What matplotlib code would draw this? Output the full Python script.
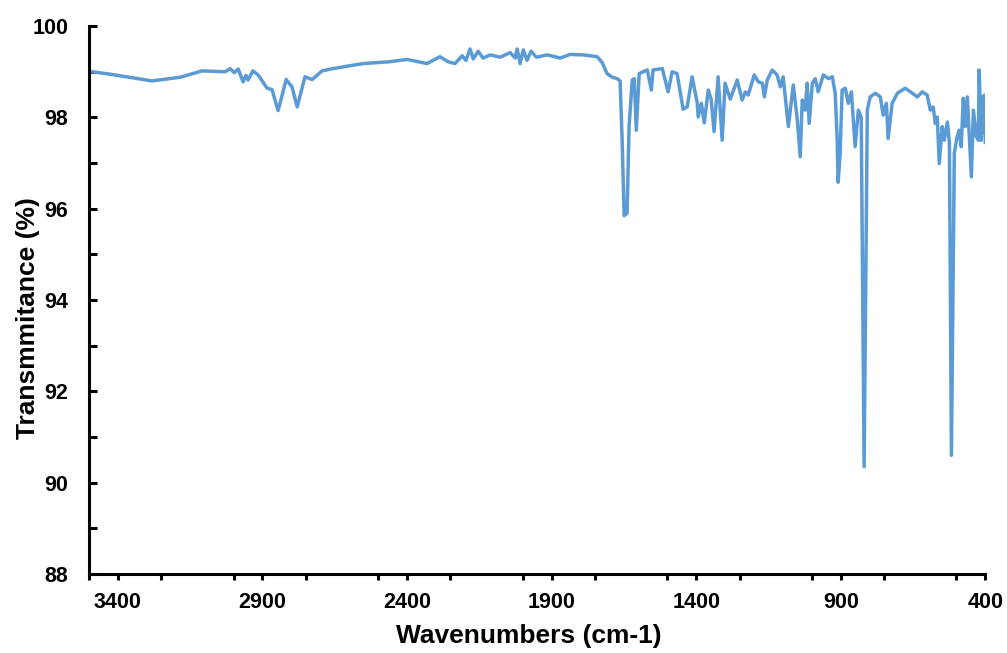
import numpy as np
import matplotlib
matplotlib.use("Agg")
import matplotlib.pyplot as plt
from matplotlib.ticker import MultipleLocator

# Espectro FTIR (numero de onda en cm-1, transmitancia en %)
numero_onda = [3500, 3430, 3282, 3185, 3109, 3029, 3012, 2998, 2984, 2967,
               2957, 2950, 2933, 2915, 2884, 2867, 2846, 2818, 2798, 2780,
               2753, 2728, 2694, 2656, 2552, 2460, 2400, 2331, 2286, 2258, 2234,
               2209, 2196, 2182, 2171, 2154, 2137, 2112, 2078, 2043, 2026,
               2019, 2009, 1998, 1985, 1971, 1953, 1915, 1870, 1836, 1791,
               1742, 1725, 1708, 1690, 1673, 1663, 1656, 1649, 1639, 1632,
               1621, 1614, 1607, 1597, 1569, 1555, 1549, 1517, 1497, 1483,
               1466, 1445, 1431, 1414, 1396, 1393, 1382, 1372, 1358, 1348,
               1338, 1324, 1310, 1300, 1282, 1258, 1241, 1230, 1220, 1199,
               1185, 1171, 1164, 1154, 1137, 1120, 1109, 1099, 1081, 1064,
               1050, 1040, 1033, 1023, 1016, 1009, 998, 988, 978, 960,
               943, 929, 919, 912, 909, 902, 895, 884, 874, 863,
               850, 839, 829, 819, 808, 798, 780, 763, 753, 742,
               736, 722, 704, 677, 652, 635, 618, 601, 590, 580,
               573, 566, 559, 549, 542, 531, 524, 517, 507, 497,
               490, 483, 476, 469, 462, 455, 448, 441, 431, 424,
               421, 414, 410, 407, 403, 400]
transmitancia = [99.01, 98.95, 98.80, 98.88, 99.02, 99.00, 99.07, 98.98, 99.06, 98.78,
                 98.92, 98.82, 99.02, 98.93, 98.64, 98.61, 98.15, 98.83, 98.67, 98.23,
                 98.89, 98.83, 99.02, 99.07, 99.18, 99.22, 99.27, 99.18, 99.33, 99.22, 99.18,
                 99.35, 99.25, 99.50, 99.28, 99.45, 99.30, 99.37, 99.32, 99.42, 99.30,
                 99.50, 99.18, 99.48, 99.25, 99.45, 99.32, 99.37, 99.30, 99.38, 99.37,
                 99.33, 99.20, 98.96, 98.88, 98.85, 98.80, 97.50, 95.85, 95.90, 97.80,
                 98.82, 98.85, 97.72, 98.96, 99.04, 98.60, 99.04, 99.07, 98.56, 99.00,
                 98.96, 98.18, 98.23, 98.89, 98.31, 98.01, 98.31, 97.88, 98.60, 98.40,
                 97.69, 98.89, 97.50, 98.75, 98.40, 98.82, 98.38, 98.56, 98.49, 98.93,
                 98.78, 98.75, 98.45, 98.82, 99.04, 98.93, 98.67, 98.89, 97.80, 98.71,
                 97.94, 97.14, 98.38, 98.16, 98.75, 97.87, 98.75, 98.85, 98.56, 98.93,
                 98.85, 98.89, 98.53, 97.50, 96.58, 97.20, 98.60, 98.64, 98.31, 98.56,
                 97.36, 98.16, 98.00, 90.35, 98.16, 98.45, 98.53, 98.45, 98.05, 98.31,
                 97.54, 98.31, 98.53, 98.64, 98.53, 98.45, 98.56, 98.49, 98.16, 98.23,
                 97.87, 98.01, 96.99, 97.80, 97.50, 97.90, 97.44, 90.60, 97.22, 97.58,
                 97.72, 97.36, 98.42, 97.80, 98.45, 97.58, 96.70, 98.16, 97.58, 97.50,
                 99.04, 97.50, 98.45, 97.65, 98.49, 97.45]

ticks_x = [3400, 2900, 2400, 1900, 1400, 900, 400]
ticks_y = [88, 90, 92, 94, 96, 98, 100]

plt.rcParams['font.family'] = ['Liberation Sans', 'DejaVu Sans']

fig = plt.figure(figsize=(10.07, 6.53), dpi=100)
ax = fig.add_axes([0.0884, 0.121, 0.890, 0.839])

ax.plot(numero_onda, transmitancia, color="#5B9BD5", linewidth=2.5)

ax.set_xlim(3500, 400)
ax.set_ylim(88, 100)
ax.set_xticks(ticks_x)
ax.set_yticks(ticks_y)
ax.xaxis.set_minor_locator(MultipleLocator(250))
ax.yaxis.set_minor_locator(MultipleLocator(1))

for lado in ["top", "right"]:
    ax.spines[lado].set_visible(False)
for lado in ["left", "bottom"]:
    ax.spines[lado].set_linewidth(2.2)

ax.tick_params(axis="x", which="both", direction="out", length=4, width=2.2,
               labelsize=15.5, pad=9)
ax.tick_params(axis="y", which="both", direction="in", length=6, width=2.2,
               labelsize=15.5, pad=15)
for etiqueta in ax.get_xticklabels() + ax.get_yticklabels():
    etiqueta.set_fontweight("bold")

ax.set_xlabel("Wavenumbers (cm-1)", fontsize=19, fontweight="bold")
ax.set_ylabel("Transmmitance (%)", fontsize=19, fontweight="bold")
ax.xaxis.set_label_coords(0.491, -0.091)
ax.yaxis.set_label_coords(-0.055, 0.467)

fig.savefig("out.png", dpi=100)
